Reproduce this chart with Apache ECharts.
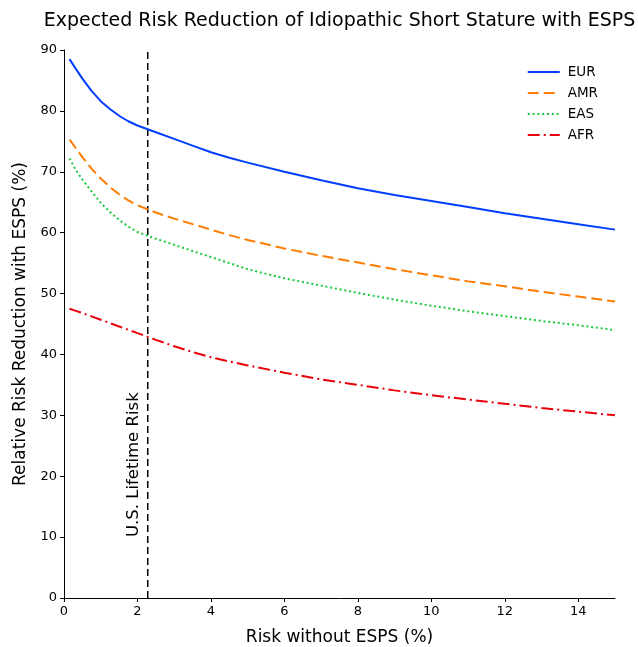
<!DOCTYPE html>
<html>
<head>
<meta charset="utf-8">
<script src="https://cdn.jsdelivr.net/npm/echarts@6/dist/echarts.min.js"></script>
<style>
  html, body { margin: 0; padding: 0; background: #fff; }
  #chart { width: 638px; height: 647px; }
</style>
</head>
<body>
<div id="chart"></div>
<script>
// Risk without ESPS (%)
const riskX = [0.15, 0.3, 0.5, 0.75, 1, 1.25, 1.5, 1.75, 2, 2.5, 3, 3.5, 4, 4.5, 5, 6, 7, 8, 9, 10, 11, 12, 13, 14, 15];

// Relative risk reduction with ESPS (%) per population
const eur = [88.5, 87.1, 85.3, 83.3, 81.6, 80.3, 79.2, 78.3, 77.6, 76.5, 75.4, 74.3, 73.2, 72.3, 71.5, 70.0, 68.6, 67.3, 66.2, 65.2, 64.2, 63.2, 62.3, 61.4, 60.5];
const amr = [75.3, 74.05, 72.4, 70.5, 68.9, 67.5, 66.3, 65.3, 64.5, 63.3, 62.3, 61.4, 60.5, 59.6, 58.8, 57.4, 56.2, 55.1, 54.0, 53.0, 52.0, 51.2, 50.3, 49.5, 48.7];
const eas = [72.2, 70.5, 68.7, 66.8, 64.9, 63.4, 62.1, 61.0, 60.1, 59.0, 58.0, 57.0, 56.0, 55.0, 54.0, 52.5, 51.3, 50.1, 49.0, 48.0, 47.1, 46.3, 45.5, 44.8, 44.0];
const afr = [47.5, 47.2, 46.8, 46.25, 45.7, 45.15, 44.6, 44.05, 43.5, 42.4, 41.35, 40.4, 39.55, 38.85, 38.2, 37.0, 35.9, 35.0, 34.1, 33.3, 32.6, 31.9, 31.2, 30.6, 30.0];

const seriesNames = ['EUR', 'AMR', 'EAS', 'AFR'];
const usLifetimeRisk = 2.28;

const xTicks = [0, 2, 4, 6, 8, 10, 12, 14];
const yTicks = [0, 10, 20, 30, 40, 50, 60, 70, 80, 90];

const FONT = 'DejaVu Sans';

function pairs(ys) {
  return riskX.map((x, i) => [x, ys[i]]);
}

const styles = [
  { color: '#023eff', type: 'solid' },
  { color: '#ff7c00', type: [11, 5] },
  { color: '#1ac938', type: [2, 2.8] },
  { color: '#e8000b', type: [12, 4, 2, 4] }
];

const chart = echarts.init(document.getElementById('chart'), null, { renderer: 'canvas' });

const allValues = [eur, amr, eas, afr];

const series = allValues.map((vals, i) => ({
  name: seriesNames[i],
  type: 'line',
  data: pairs(vals),
  showSymbol: false,
  symbol: 'none',
  smooth: false,
  lineStyle: { color: styles[i].color, width: 2, type: styles[i].type },
  itemStyle: { color: styles[i].color },
  z: 3
}));

// vertical reference line at the U.S. lifetime risk
series.push({
  name: 'ref',
  type: 'line',
  data: [[usLifetimeRisk, 0], [usLifetimeRisk, 90]],
  symbol: 'none',
  lineStyle: { color: '#000', width: 1.5, type: [7, 4] },
  silent: true,
  z: 2
});

chart.setOption({
  animation: false,
  backgroundColor: '#fff',
  title: {
    text: 'Expected Risk Reduction of Idiopathic Short Stature with ESPS',
    left: 339.5,
    textAlign: 'center',
    top: 12,
    padding: 0,
    textStyle: { fontFamily: FONT, fontSize: 19, fontWeight: 'normal', color: '#000' }
  },
  legend: {
    data: seriesNames,
    orient: 'vertical',
    right: 35,
    top: 60,
    itemWidth: 32,
    itemHeight: 12,
    itemGap: 7,
    itemStyle: { opacity: 0 },
    textStyle: { fontFamily: FONT, fontSize: 13.5, color: '#000', padding: [0, 0, 0, 3] }
  },
  grid: { left: 64, right: 23, top: 50, bottom: 49, containLabel: false, outerBoundsMode: 'none' },
  xAxis: {
    type: 'value',
    min: 0,
    max: 15,
    interval: 2,
    name: 'Risk without ESPS (%)',
    nameLocation: 'middle',
    nameGap: 31,
    nameTextStyle: { fontFamily: FONT, fontSize: 17, color: '#000' },
    axisLine: { lineStyle: { color: '#000', width: 1 } },
    axisTick: { show: true, length: 4, customValues: xTicks, lineStyle: { color: '#000' } },
    axisLabel: { customValues: xTicks, fontFamily: FONT, fontSize: 13, color: '#000', margin: 7 },
    splitLine: { show: false }
  },
  yAxis: {
    type: 'value',
    min: 0,
    max: 90,
    interval: 10,
    name: 'Relative Risk Reduction with ESPS (%)',
    nameLocation: 'middle',
    nameGap: 35,
    nameTextStyle: { fontFamily: FONT, fontSize: 17, color: '#000' },
    axisLine: { show: true, lineStyle: { color: '#000', width: 1 } },
    axisTick: { show: true, length: 4, customValues: yTicks, lineStyle: { color: '#000' } },
    axisLabel: { customValues: yTicks, fontFamily: FONT, fontSize: 13, color: '#000', margin: 7 },
    splitLine: { show: false }
  },
  series: series
});

// rotated annotation beside the reference line
const p = chart.convertToPixel({ gridIndex: 0 }, [usLifetimeRisk, 21.9]);
chart.setOption({
  graphic: [{
    type: 'text',
    x: p[0] - 14,
    y: p[1],
    rotation: Math.PI / 2,
    style: {
      text: 'U.S. Lifetime Risk',
      fontFamily: FONT,
      fontSize: 16.5,
      fill: '#000',
      align: 'center',
      verticalAlign: 'middle'
    }
  }]
});
</script>
</body>
</html>
